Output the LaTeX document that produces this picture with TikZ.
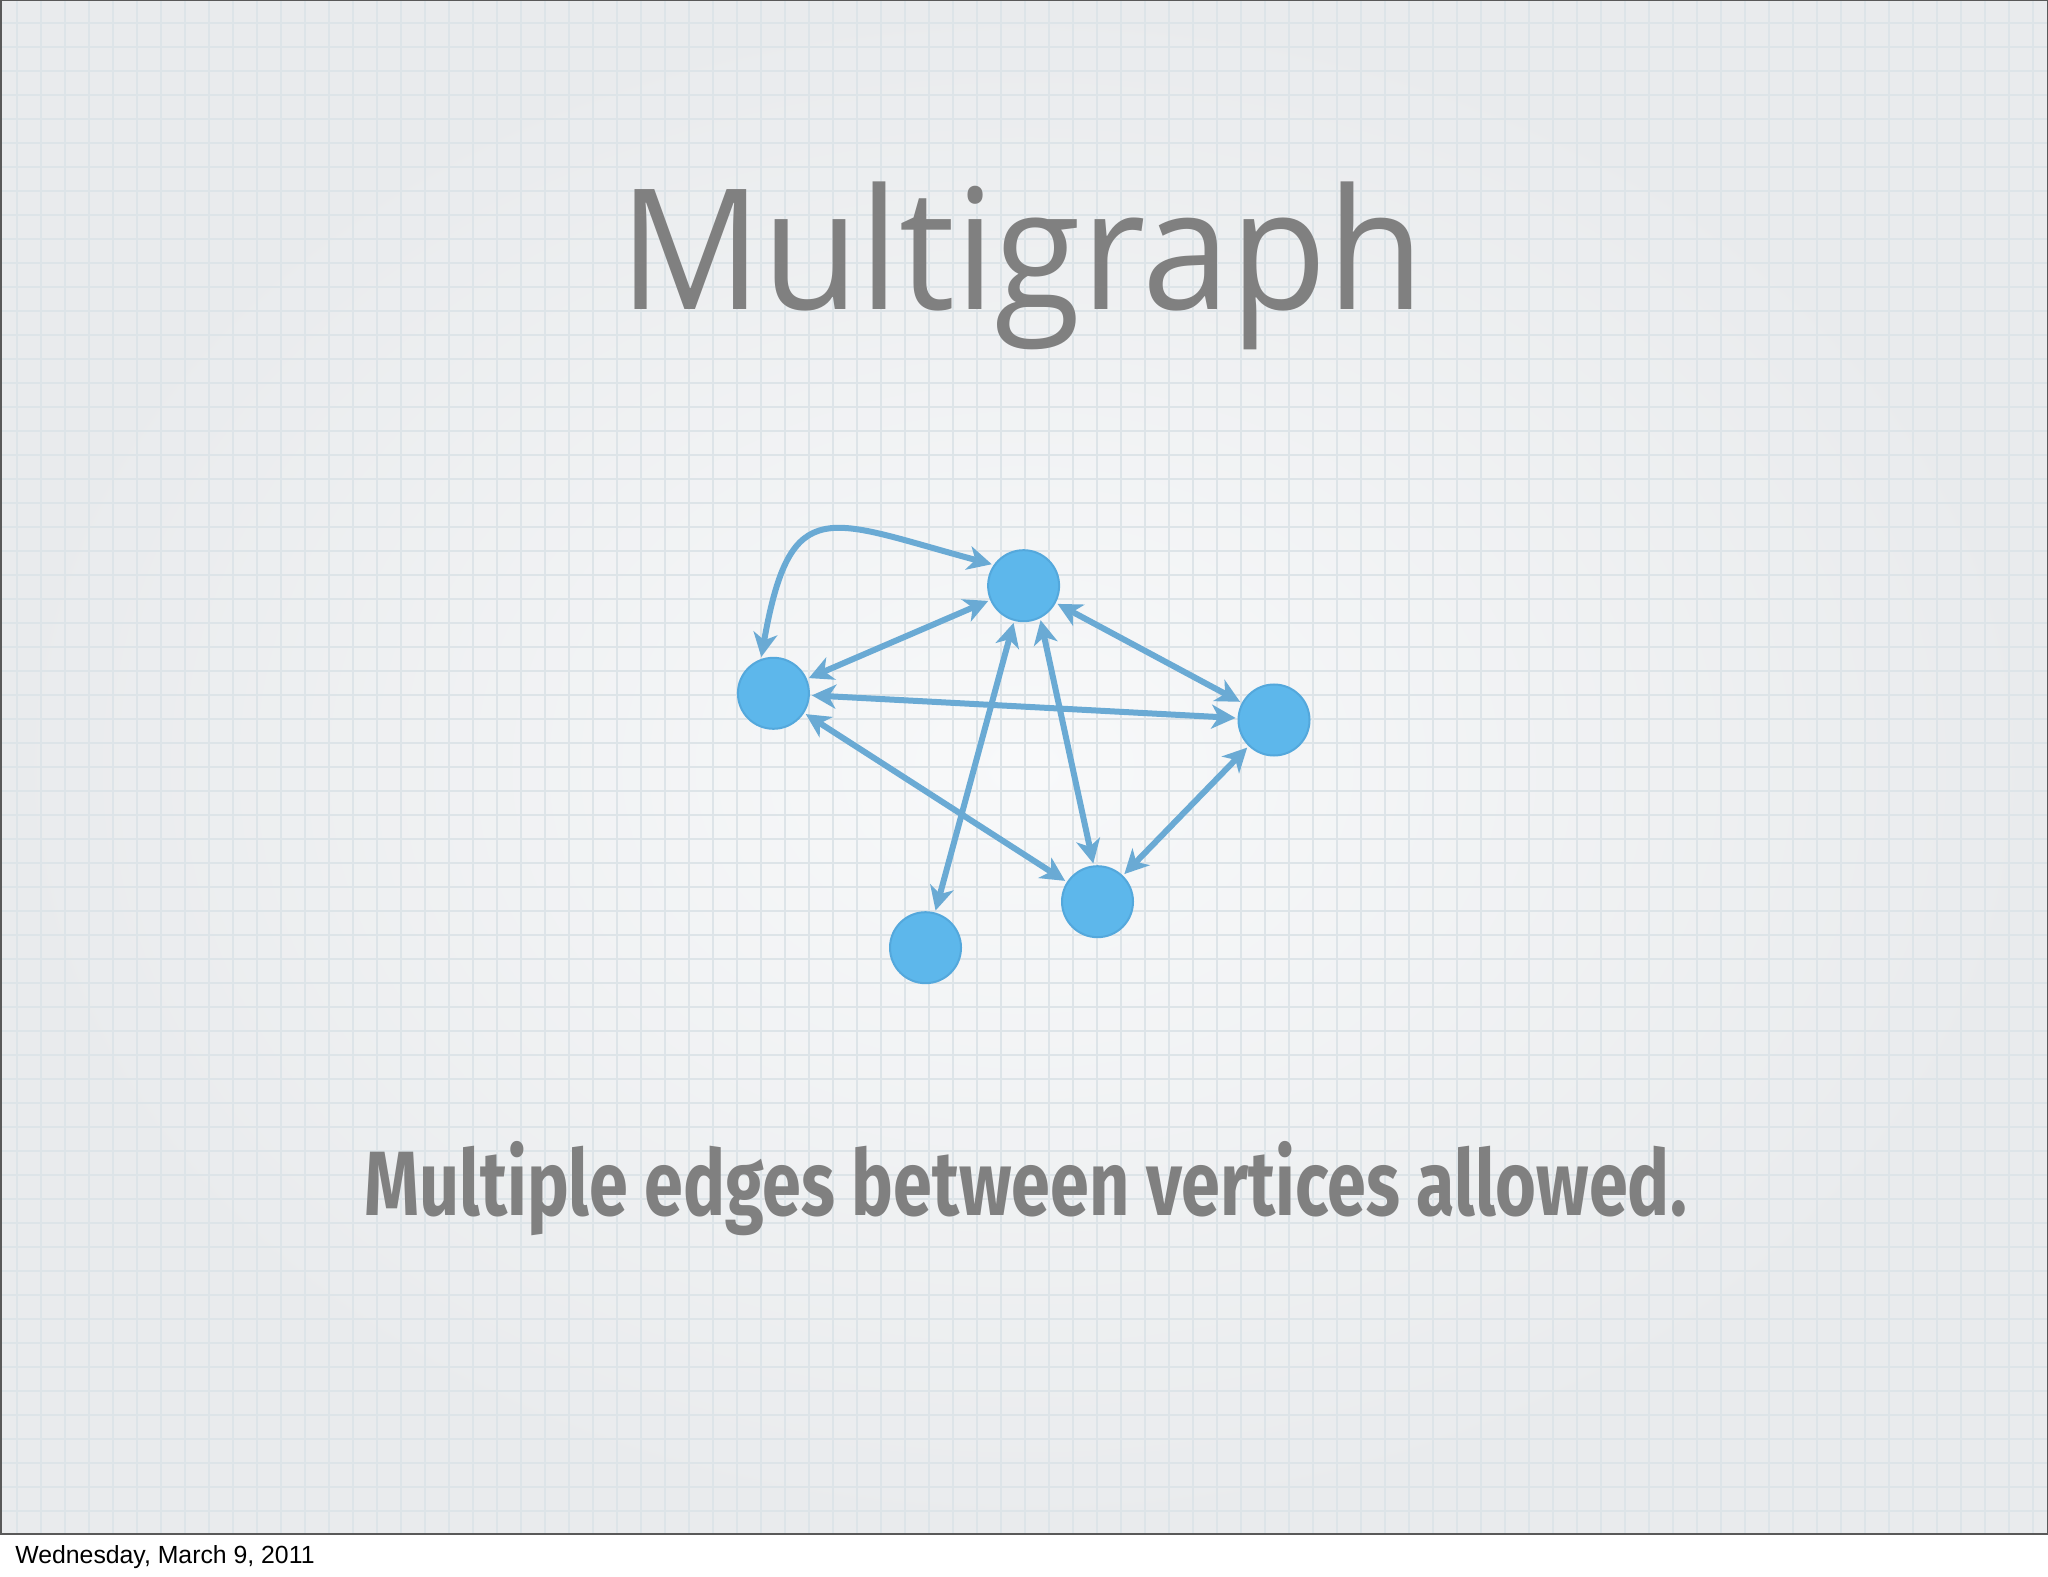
\documentclass[tikz,border=0pt]{standalone}
\usepackage{fontspec}
\setmainfont{Open Sans}
\newfontfamily\notefont{Fira Sans}
\newfontfamily\datefont{Liberation Sans}
\usetikzlibrary{arrows.meta}
\definecolor{vertexblue}{RGB}{93,183,235}
\definecolor{vertexrim}{RGB}{84,168,220}
\definecolor{edgeblue}{RGB}{106,170,212}
\definecolor{slidegray}{RGB}{128,128,128}
\definecolor{slidelight}{RGB}{248,249,250}
\definecolor{slidedark}{RGB}{233,235,237}
\definecolor{gridblue}{RGB}{221,228,232}
\tikzset{
    %Define standard arrow tip
    >={Stealth[length=12pt,width=12pt,inset=3.5pt]},
    %Define style for vertices
    vertex/.style={
           circle,
           draw=vertexrim, line width=1pt,
           fill=vertexblue,
           minimum size=35.5pt,
           inner sep=0pt},
    % Define arrow style
    pil/.style={
           <->,
           color=edgeblue,
           line width=3pt,
           shorten <=1pt,
           shorten >=1pt},
    % Define style for paper lines
    gridline/.style={
           draw=gridblue,
           line width=0.9pt}
}
\begin{document}
\begin{tikzpicture}[x=0.5pt,y=0.5pt]
\useasboundingbox (0,0) rectangle (2048,1576);
 %paper
\fill[white] (0,0) rectangle (2048,42);
\shade[inner color=slidelight, outer color=slidedark] (0,42) rectangle (2048,1576);
\foreach \x in {17,41,...,2047} \draw[gridline] (\x,42) -- (\x,1576);
\foreach \y in {65,89,...,1553} \draw[gridline] (0,\y) -- (2048,\y);
\draw[line width=1pt, black!65] (0.5,42) rectangle (2047.5,1575.5);
 %texts
\node[font=\fontsize{84}{96}\selectfont, text=slidegray, anchor=base] (title) at (1022,1266.5) {\scalebox{0.94}[1]{Multigraph}};
\node[font=\notefont\bfseries\fontsize{45.7}{50}\selectfont, text=slidegray, anchor=base] (note) at (1025.5,361) {\scalebox{0.767}[1]{Multiple edges between vertices allowed.}};
\node[font=\datefont\fontsize{12.4}{14}\selectfont, anchor=base west, inner sep=0pt] (date) at (15,13) {Wednesday, March 9, 2011};
 %nodes
\node[vertex] (1) at (1023.6,990.3) {};
\node[vertex] (2) at (773.4,882.7) {};
\node[vertex] (3) at (1274,856) {};
\node[vertex] (4) at (1097.5,674.3) {};
\node[vertex] (5) at (925.5,628.3) {};
 \path[pil]
   (2.110) edge[out=80,in=165,looseness=1.75] (1.145)
   (1) edge (2) edge (3) edge (5)
   (1.-63) edge (4.96)
   (2) edge (3) edge (4)
   (3) edge (4);
\end{tikzpicture}
\end{document}
